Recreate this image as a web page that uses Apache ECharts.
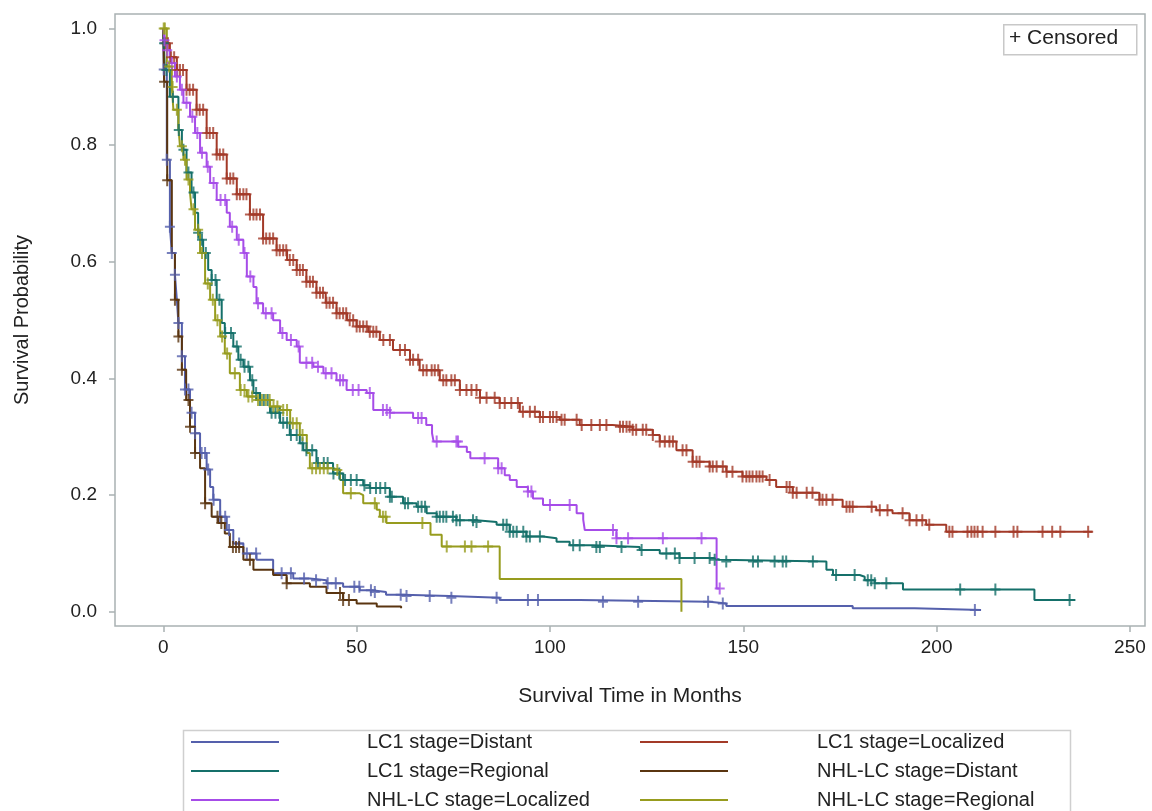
<!DOCTYPE html>
<html>
<head>
<meta charset="utf-8">
<title>Survival curves by stage</title>
<script src="https://cdn.jsdelivr.net/npm/echarts@6/dist/echarts.min.js"></script>
<style>
  html, body { margin: 0; padding: 0; background: #fff; }
  #chart { width: 1152px; height: 811px; }
</style>
</head>
<body>
<div id="chart"></div>
<script>
// --- data: [months, survival probability] step points ---
const groupNames = [
    'LC1 stage=Distant', 'LC1 stage=Localized', 'LC1 stage=Regional',
    'NHL-LC stage=Distant', 'NHL-LC stage=Localized', 'NHL-LC stage=Regional'
];

const lc1Distant = [[0,1.0],[0.1,0.93],[0.9,0.775],[1.7,0.66],[2.2,0.615],[3.0,0.578],[3.5,0.535],[3.9,0.495],[4.8,0.438],[5.6,0.381],[6.9,0.341],[8.2,0.306],[9.5,0.272],[11.2,0.244],[12.1,0.214],[12.9,0.192],[14.7,0.163],[16.4,0.140],[18.1,0.117],[20.7,0.100],[24.1,0.089],[28.4,0.066],[33.6,0.057],[37.9,0.054],[42.2,0.049],[46.5,0.043],[50.8,0.037],[54,0.034],[57.6,0.029],[62,0.027],[74,0.024],[87,0.020],[107.7,0.017],[141.3,0.014],[145.6,0.010],[178.3,0.006],[194.3,0.003],[211.5,0.003]];

const lc1Localized = [[0,1.0],[0.5,0.975],[1.7,0.951],[3.5,0.929],[6.0,0.895],[8.6,0.861],[11.2,0.821],[13.8,0.784],[16.4,0.743],[19.0,0.716],[22.4,0.681],[25.8,0.640],[29.3,0.620],[32,0.603],[34.5,0.586],[37,0.566],[39.6,0.547],[42,0.530],[44.8,0.512],[47.5,0.500],[50,0.489],[53,0.480],[56,0.466],[59.4,0.449],[63.8,0.432],[66.3,0.414],[71.5,0.397],[76.7,0.380],[81.9,0.367],[87.0,0.358],[92.2,0.343],[97.4,0.334],[102.5,0.329],[107.7,0.320],[116.2,0.317],[121.4,0.312],[126.6,0.303],[128.4,0.292],[132.7,0.277],[136.9,0.257],[141.3,0.249],[145.6,0.240],[149.8,0.232],[156.0,0.226],[158.5,0.214],[162.8,0.204],[169.7,0.192],[175.7,0.180],[184.4,0.174],[188.6,0.169],[193.0,0.157],[197.3,0.149],[202.5,0.137],[240.3,0.137]];

const lc1Regional = [[0,1.0],[0.1,0.975],[0.4,0.929],[1.7,0.883],[3.9,0.826],[4.8,0.792],[6.0,0.753],[7.3,0.719],[8.2,0.684],[9.0,0.65],[9.5,0.638],[10.3,0.615],[11.6,0.586],[12.5,0.569],[13.8,0.535],[15.1,0.495],[15.9,0.478],[18.1,0.455],[19.4,0.432],[20.7,0.420],[22.4,0.397],[23.3,0.375],[25.0,0.363],[27.6,0.341],[30.2,0.324],[32.7,0.303],[35.3,0.289],[36.2,0.277],[39.6,0.255],[43.9,0.237],[46.5,0.226],[51.7,0.217],[53.4,0.212],[58.6,0.197],[62,0.186],[65.5,0.180],[68.1,0.169],[70.7,0.163],[75.8,0.157],[81,0.154],[86.2,0.149],[89.6,0.137],[93.9,0.129],[98.2,0.126],[101.7,0.120],[105.1,0.114],[111.1,0.111],[123.2,0.106],[128.4,0.100],[133.5,0.092],[142.2,0.089],[143.9,0.086],[171.5,0.072],[173.2,0.063],[180.1,0.060],[181.4,0.054],[184,0.049],[191.3,0.038],[225.3,0.020],[235.9,0.020]];

const nhlDistant = [[0,1.0],[0.2,0.909],[1.0,0.74],[2.2,0.615],[3.0,0.535],[3.9,0.472],[4.8,0.415],[5.9,0.363],[6.9,0.317],[8.2,0.272],[9.5,0.246],[10.8,0.186],[12.5,0.163],[14.2,0.152],[15.9,0.134],[17.2,0.111],[20.7,0.089],[23.3,0.072],[28.4,0.063],[31.9,0.049],[37.9,0.043],[42.2,0.032],[46.5,0.020],[50.0,0.014],[55.2,0.009],[61.5,0.006]];

const nhlLocalized = [[0,1.0],[0.3,0.98],[0.9,0.963],[1.7,0.941],[3.0,0.918],[4.3,0.895],[5.2,0.873],[6.9,0.849],[8.2,0.821],[9.5,0.787],[11.2,0.763],[12.1,0.735],[13.8,0.706],[16.4,0.684],[17.2,0.660],[19.0,0.638],[20.7,0.615],[21.6,0.575],[23.3,0.557],[24.1,0.529],[25.8,0.512],[28.4,0.500],[30.2,0.478],[31.9,0.466],[34.5,0.455],[35.3,0.427],[38.8,0.420],[41.4,0.409],[44.8,0.397],[47.4,0.380],[52.6,0.375],[54.3,0.346],[58.6,0.341],[64.6,0.332],[68,0.320],[69.5,0.306],[69.9,0.292],[76.3,0.283],[78.5,0.274],[79.4,0.263],[86.6,0.246],[88.3,0.234],[89.6,0.226],[91.4,0.214],[94.3,0.206],[95.6,0.194],[98.2,0.183],[106.9,0.169],[108.6,0.158],[109.0,0.140],[117.2,0.126],[143.1,0.040],[143.9,0.040]];

const nhlRegional = [[0,1.0],[0.9,0.935],[2.2,0.900],[2.6,0.861],[3.9,0.832],[4.3,0.798],[5.2,0.775],[6.0,0.741],[6.9,0.719],[7.3,0.690],[8.2,0.655],[9.5,0.615],[10.8,0.563],[12.1,0.535],[13.4,0.500],[14.7,0.472],[15.9,0.443],[17.2,0.409],[19.8,0.380],[21.6,0.369],[24.1,0.363],[27.6,0.352],[30.2,0.346],[32.8,0.323],[35.3,0.303],[37.1,0.272],[37.9,0.246],[43.9,0.243],[45.7,0.226],[46.5,0.203],[50.8,0.200],[51.7,0.186],[55.2,0.175],[56.0,0.163],[57.7,0.152],[69.1,0.132],[72.0,0.112],[87.0,0.056],[134.0,0.0]];

// censored observation times (months)
const lc1DistantCens = [0.1,0.9,1.7,2.2,3.0,3.9,4.8,5.6,6.5,7.3,8.2,9.9,10.8,11.6,13,14.7,16,17,19.6,21.6,24,30.6,33,36.4,39.5,42.5,44.6,49.4,50.7,53.7,54.7,61.4,62.9,68.9,74.5,86.2,94.3,96.9,113.7,122.8,140.9,144.7,209.9];

const lc1LocalizedCens = [0.5,1.2,2,2.8,3.6,4.3,5.1,6,6.8,7.7,8.6,9.4,10.3,11.2,12,12.9,13.8,14.6,15.5,16.4,17.3,18.1,19,19.8,20.7,21.5,22.4,23.3,24.1,25,25.8,26.6,27.5,28.4,29.3,30.1,31,31.8,32.7,33.6,34.5,35.3,36.1,37,37.9,38.7,39.6,40.5,41.3,42.2,43,43.9,44.8,45.6,46.5,47.3,48.2,49.1,50,50.8,51.7,52.6,53.4,54.3,55.1,56.9,58.6,61.2,62.5,63.8,64.6,65.9,67.2,68.1,69.4,70.2,71.1,72.4,73.2,74.5,75.4,76.7,78.4,79.7,81.0,81.9,83.6,85.7,87.0,88.3,90.0,91.7,93.0,94.8,96.1,97.4,98.2,100,100.8,101.7,103,103.8,106.9,108.2,110.7,112.9,114.6,118.1,118.9,119.8,120.6,121.4,122.3,124,124.9,126.6,128.4,129.7,130.9,131.8,134.3,135.3,136.9,137.9,138.7,141.3,142.1,143.1,144.7,145.7,147.2,149.8,150.8,151.6,152.4,153.4,154.2,155,156.8,161.2,162,162.8,163.8,166.4,167.9,169.7,170.5,171.5,173.1,176.7,177.5,178.3,183.2,185.3,187.3,191.2,193,194.8,196.3,198.1,203.3,204.1,208,209,209.8,210.6,211.9,215.2,219.9,220.9,227.4,229.9,232,239.2];

const lc1RegionalCens = [0.2,0.8,2.5,4,5.2,6.5,7.8,9,10,11,12.5,13.5,14.5,16,17.5,19,20,21,22,23,24,25,26,27,28,29,30,31,32,33,34.5,36,37,38.5,40,41.5,42.5,44,45.5,47,48.5,50,52,53.5,55,56.1,57.4,58.6,59.1,62.5,63.3,65.9,66.8,67.7,70.7,71.5,72.4,73.2,74.9,75.8,76.7,80.1,81,87.9,88.8,89.6,90.5,91.4,93.1,93.9,94.8,97.4,106,107.7,112,112.9,118.5,123.7,130.1,132.3,133.5,137.4,141.3,142.6,145.6,152.5,153.8,158.1,160.2,161.1,168,174,178.8,182.2,183.1,184,187,206.1,215.2,234.4];

const nhlDistantCens = [0.2,1,3.0,3.9,4.8,6.5,6.9,8.2,10.8,14,15,18,18.8,19.6,22.4,31.9,45.7,46.5,48];

const nhlLocalizedCens = [0.3,1,2.2,3.5,4.8,6,7.5,8.8,10,11.5,13,14.8,16,17.8,19.5,21,22.5,24.5,26.5,28,30.8,33,35,37,38.5,40,42,43.5,45.7,46.5,49,50.5,53.4,56.8,57.8,58.6,65.9,66.8,70.7,75.8,76.2,83.1,86.6,87.5,94.3,95.2,100,105.1,116.3,117.2,120.2,129.2,139.2,143.9];

const nhlRegionalCens = [0.1,0.4,1.5,2.4,3.5,4.8,5.6,6.5,7.8,9,10,11.5,12.8,14,15.2,16.5,18.5,20,21,22,23,24.5,25.5,26.5,27.5,28.5,29.5,31,32,33.5,34.5,36,38.5,39.5,40.5,41.5,42.5,45,48.5,54.7,56.8,57.5,67,73.3,78,79.7,84];

const xTicks = [0, 50, 100, 150, 200, 250];
const yTicks = [0, 0.2, 0.4, 0.6, 0.8, 1.0];

const curves = [lc1Distant, lc1Localized, lc1Regional, nhlDistant, nhlLocalized, nhlRegional];
const censors = [lc1DistantCens, lc1LocalizedCens, lc1RegionalCens, nhlDistantCens, nhlLocalizedCens, nhlRegionalCens];
const colors = ['#5560ac', '#a33a28', '#15706a', '#5a3510', '#a64ce8', '#979c1e'];

const FONT = '"Liberation Sans", Arial, sans-serif';
const FRAME = '#a9b1b3';
const CROSS = 'path://M4,0 H6 V5 H10 V7 H6 V12 H4 V7 H0 V5 H4 Z';

// survival value of a step curve at time t
function survAt(curve, t) {
    let s = curve[0][1];
    for (const p of curve) {
        if (p[0] <= t) s = p[1];
        else break;
    }
    return s;
}

const series = [];
curves.forEach((curve, i) => {
    series.push({
        name: groupNames[i],
        type: 'line',
        step: 'end',
        data: curve,
        symbol: 'none',
        lineStyle: { color: colors[i], width: 2 },
        itemStyle: { color: colors[i] },
        z: 2
    });
});
censors.forEach((list, i) => {
    series.push({
        name: 'cens' + i,
        type: 'scatter',
        data: list.map(t => [t, survAt(curves[i], t)]),
        symbol: CROSS,
        symbolSize: [10, 12],
        itemStyle: { color: colors[i] },
        silent: true,
        z: 3
    });
});

function legendFor(names, left, pad) {
    return {
        orient: 'vertical',
        left: left,
        top: 732,
        padding: 0,
        itemGap: 9,
        itemWidth: 88,
        itemHeight: 2,
        icon: 'path://M0,0 H88 V2 H0 Z',
        selectedMode: false,
        data: names.map(n => ({ name: n, itemStyle: { color: colors[groupNames.indexOf(n)] } })),
        textStyle: { fontFamily: FONT, fontSize: 20, color: '#222', lineHeight: 20, padding: [0, 0, 0, pad] }
    };
}

const chart = echarts.init(document.getElementById('chart'));
chart.setOption({
    animation: false,
    backgroundColor: '#fff',
    grid: { left: 115, right: 7, top: 14, bottom: 185, show: true, borderColor: FRAME, borderWidth: 1.5 },
    xAxis: {
        type: 'value', min: -12.5, max: 253.9,
        axisLine: { show: false, onZero: false },
        splitLine: { show: false },
        axisTick: { show: true, length: 6, customValues: xTicks, lineStyle: { color: FRAME, width: 1.5 } },
        axisLabel: { customValues: xTicks, margin: 12, fontFamily: FONT, fontSize: 19, color: '#222' },
        name: 'Survival Time in Months', nameLocation: 'middle', nameGap: 60,
        nameTextStyle: { fontFamily: FONT, fontSize: 21, color: '#222' }
    },
    yAxis: {
        type: 'value', min: -0.0245, max: 1.025,
        axisLine: { show: false, onZero: false },
        splitLine: { show: false },
        axisTick: { show: true, length: 6, customValues: yTicks, lineStyle: { color: FRAME, width: 1.5 } },
        axisLabel: { customValues: yTicks, margin: 18, fontFamily: FONT, fontSize: 19, color: '#222',
            formatter: v => v.toFixed(1) },
        name: 'Survival Probability', nameLocation: 'middle', nameGap: 83,
        nameTextStyle: { fontFamily: FONT, fontSize: 20, color: '#222' }
    },
    legend: [
        legendFor([groupNames[0], groupNames[2], groupNames[4]], 191, 83),
        legendFor([groupNames[1], groupNames[3], groupNames[5]], 640, 84)
    ],
    graphic: [
        { type: 'rect', left: 181, top: 728, shape: { width: 887, height: 100 },
          style: { fill: 'none', stroke: '#cfcfcf', lineWidth: 1.5 }, z: -1 },
        { type: 'rect', left: 1003, top: 24, shape: { width: 133, height: 30 },
          style: { fill: '#fff', stroke: '#c8c8c8', lineWidth: 1.5 }, z: 10 },
        { type: 'text', left: 1009, top: 28, z: 11,
          style: { text: '+ Censored', font: '21px ' + FONT, fill: '#222' } }
    ],
    series: series
});
</script>
</body>
</html>
